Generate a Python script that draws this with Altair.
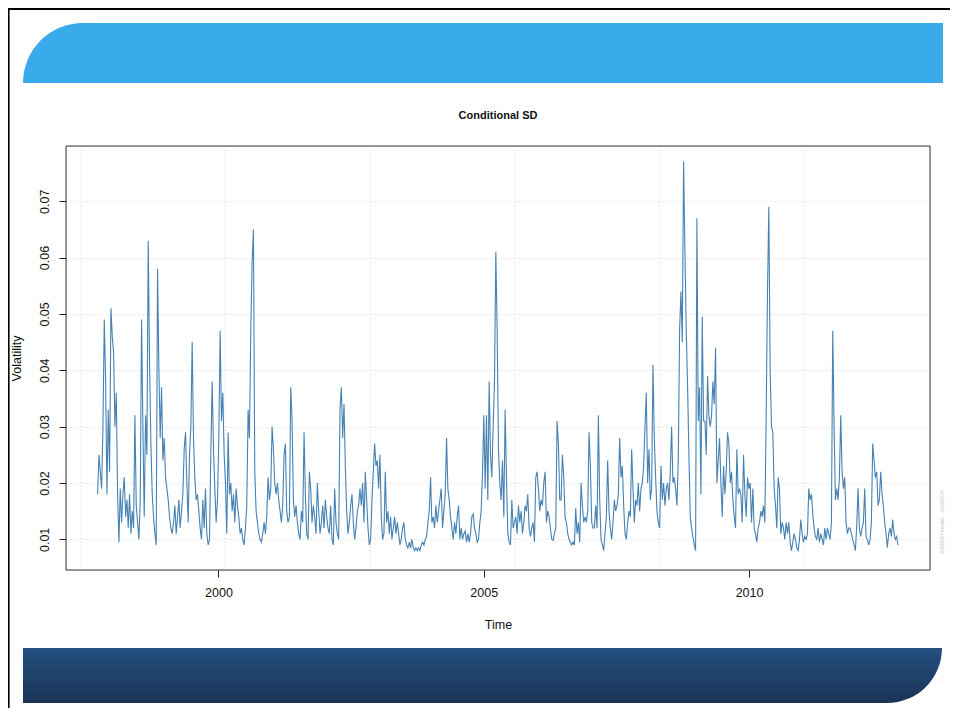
import math
import altair as alt
import pandas as pd

# ---- time series: regularly spaced (start year + step) conditional SD values ----
start_year = 1997.722
step_years = 0.0251

vol_1997_2000 = [
    .018, .025, .022, .019, .030, .049, .038, .018, .033, .022,
    .051, .046, .043, .030, .036, .018, .0095, .019, .013, .018,
    .021, .014, .017, .012, .018, .011, .015, .012, .032, .016,
    .013, .010, .017, .049, .030, .014, .032, .025, .063, .041,
    .027, .018, .014, .011, .009, .058, .040, .028, .037, .024,
    .028, .021, .019, .017, .014, .012, .011, .013, .016, .011,
    .014, .017, .012, .015, .018, .026, .029, .020, .013, .025,
    .030, .045, .028, .021, .017, .018, .015, .012, .010, .017,
    .012, .019, .011, .009, .010, .025, .038, .026, .019, .013,
    .017, .028, .047, .031, .036, .025, .020, .011, .029, .018,
]
vol_2000_2003 = [
    .020, .015, .018, .013, .019, .016, .014, .011, .012, .010,
    .009, .012, .016, .033, .028, .047, .059, .065, .022, .015,
    .013, .011, .010, .0095, .011, .013, .011, .014, .021, .017,
    .019, .030, .026, .020, .018, .020, .017, .015, .013, .016,
    .025, .027, .015, .013, .014, .037, .031, .017, .014, .016,
    .013, .011, .010, .015, .013, .029, .018, .011, .010, .022,
    .019, .013, .016, .014, .011, .020, .015, .011, .013, .016,
    .012, .017, .014, .012, .011, .016, .010, .009, .019, .013,
    .011, .010, .033, .037, .028, .034, .023, .015, .011, .013,
    .016, .018, .013, .010, .012, .015, .016, .019, .016, .020,
    .013, .022, .017, .012, .009, .010, .017, .022, .027, .023,
    .024, .019, .025, .014, .010, .011, .022, .013, .015, .011,
    .014, .010, .012, .014, .011, .013, .011,
]
vol_2003_2006 = [
    .009, .010, .012, .013, .010, .009, .0085, .0095, .0085, .010,
    .0085, .008, .0085, .008, .0085, .008, .009, .0095, .009, .010,
    .0105, .013, .015, .021, .013, .014, .012, .016, .013, .015,
    .017, .019, .012, .015, .018, .028, .019, .017, .014, .012,
    .010, .013, .011, .014, .016, .010, .012, .010, .011, .0115,
    .0095, .011, .0095, .011, .014, .0145, .012, .011, .0095, .010,
    .013, .015, .022, .032, .019, .032, .017, .038, .025, .021,
    .030, .038, .061, .047, .026, .020, .017, .024, .014, .033,
    .021, .011, .0095, .009, .017, .012, .013, .014, .011, .016,
    .013, .015, .011, .013, .016, .015, .018, .012, .0105, .012,
    .013, .0095, .021, .022, .019, .015, .017, .016, .020, .022,
    .013, .015, .014, .012, .010, .0098, .011, .012, .031, .027,
    .017, .017, .025, .021, .014, .013, .011, .010,
]
vol_2006_2009 = [
    .0095, .009, .0095, .009, .0155, .011, .013, .0095, .020, .016,
    .013, .014, .013, .015, .029, .023, .013, .012, .012, .016,
    .012, .032, .017, .010, .009, .008, .011, .014, .024, .015,
    .012, .010, .013, .017, .015, .016, .018, .028, .021, .023,
    .016, .011, .010, .013, .015, .014, .026, .019, .013, .017,
    .016, .020, .015, .019, .020, .023, .030, .036, .020, .026,
    .017, .019, .041, .028, .021, .015, .013, .012, .023, .017,
    .020, .016, .019, .020, .017, .022, .030, .020, .021, .019,
    .016, .024, .047, .054, .045, .077, .061, .047, .037, .025,
    .014, .012, .0105, .009, .008, .067, .031, .037, .018, .0495,
    .031, .031, .025, .039, .032, .030, .032, .038, .034, .044,
    .020, .024, .028, .020, .014, .023, .018, .022, .029, .027,
    .020, .022, .017, .014, .012, .026, .018,
]
vol_2009_2012 = [
    .019, .018, .013, .025, .018, .014, .021, .019, .020, .013,
    .019, .012, .011, .0095, .012, .013, .015, .014, .016, .013,
    .032, .054, .069, .040, .030, .029, .019, .016, .012, .021,
    .019, .011, .013, .012, .010, .013, .011, .013, .0095, .008,
    .0095, .011, .010, .0085, .008, .010, .0135, .011, .0095, .0105,
    .010, .011, .019, .017, .018, .0145, .012, .0105, .010, .012,
    .0095, .011, .010, .009, .012, .010, .012, .011, .010, .013,
    .047, .030, .017, .019, .017, .021, .032, .022, .019, .021,
    .013, .011, .012, .012, .011, .010, .009, .008, .0125, .019,
    .012, .0105, .012, .013, .019, .0105, .010, .009, .010, .013,
    .027, .024, .021, .022, .016, .017, .022, .018, .016, .013,
    .011, .0085, .011, .012, .0105, .0135, .011, .010, .0105, .009,
]

x_ticks = [2000, 2005, 2010]
y_ticks = [0.01, 0.02, 0.03, 0.04, 0.05, 0.06, 0.07]
x_grid = [1997.409, 2000.126, 2002.857, 2005.588, 2008.318, 2011.049]
chart_title = "Conditional SD"
watermark_text = "GARCH model : sGARCH"

values = vol_1997_2000 + vol_2000_2003 + vol_2003_2006 + vol_2006_2009 + vol_2009_2012
df = pd.DataFrame({
    "t": [round(start_year + i * step_years, 4) for i in range(len(values))],
    "v": values,
})
grid_df = pd.DataFrame({"t": x_grid})
one = pd.DataFrame({"k": [0]})

FONT = "Liberation Sans"
TXT = "#111111"

x_scale = alt.Scale(domain=[1997.126, 2013.41], nice=False, zero=False)
y_scale = alt.Scale(domain=[0.00456, 0.0798], nice=False, zero=False)

x_axis = alt.Axis(
    values=x_ticks, format="d", grid=False, domain=False,
    tickSize=7, tickColor="#222222", labelFont=FONT, labelFontSize=12.5,
    labelColor=TXT, labelBaseline="alphabetic", labelPadding=19.5,
    labelFlush=False, labelOverlap=False,
    title="Time", titleFont=FONT, titleFontSize=12.5, titleFontWeight="normal",
    titleColor=TXT, titleBaseline="middle", titleY=54,
)
y_axis = alt.Axis(
    values=y_ticks, format=".2f", grid=True, gridColor="#d3d3d3",
    gridDash=[1, 3], gridWidth=1, domain=False, tickSize=7, tickColor="#222222",
    labelAngle=270, labelAlign="center", labelBaseline="alphabetic",
    labelPadding=10.5, labelFont=FONT, labelFontSize=12.5, labelColor=TXT,
    labelOverlap=False, labelFlush=False,
    title="Volatility", titleFont=FONT, titleFontSize=12.5,
    titleFontWeight="normal", titleColor=TXT, titleAngle=270,
    titleAlign="center", titleBaseline="alphabetic", titleX=-46, titleY=212,
)

# ---- slide decorations ----
sky = "#39aaea"
navy = alt.Gradient(
    gradient="linear",
    stops=[alt.GradientStop(color="#24507f", offset=0),
           alt.GradientStop(color="#1a3356", offset=1)],
    x1=0, x2=0, y1=0, y2=1,
)

top_rect = alt.Chart(one).mark_rect(fill=sky).encode(
    x=alt.value(16.5), x2=alt.value(877), y=alt.value(-123), y2=alt.value(-63))
top_arc = alt.Chart(one).mark_arc(
    fill=sky, radius=60, theta=3 * math.pi / 2, theta2=2 * math.pi
).encode(x=alt.value(17), y=alt.value(-63))

bot_rect = alt.Chart(one).mark_rect(fill=navy).encode(
    x=alt.value(-43), x2=alt.value(821.5), y=alt.value(502), y2=alt.value(557))
bot_arc = alt.Chart(one).mark_arc(
    fill=navy, radius=55, theta=math.pi / 2, theta2=math.pi
).encode(x=alt.value(821), y=alt.value(502))

border_left = alt.Chart(one).mark_rule(color="black", strokeWidth=1.6).encode(
    x=alt.value(-57.2), y=alt.value(-138), y2=alt.value(562))
border_top = alt.Chart(one).mark_rule(color="black", strokeWidth=2).encode(
    x=alt.value(-58), x2=alt.value(884), y=alt.value(-137))

title_mark = alt.Chart(one).mark_text(
    text=chart_title, fontSize=11, fontWeight="bold", font=FONT, color=TXT,
    align="center", baseline="alphabetic",
).encode(x=alt.value(432), y=alt.value(-27))

grid_layer = alt.Chart(grid_df).mark_rule(
    color="#d3d3d3", strokeDash=[1, 3], strokeWidth=1
).encode(x=alt.X("t:Q", scale=x_scale, axis=x_axis))

line_layer = alt.Chart(df).mark_line(color="#4682b4", strokeWidth=1.1).encode(
    x=alt.X("t:Q", scale=x_scale, axis=x_axis),
    y=alt.Y("v:Q", scale=y_scale, axis=y_axis),
)

plot_box = alt.Chart(one).mark_rect(
    fillOpacity=0, stroke="#3a3a3a", strokeWidth=1
).encode(x=alt.value(0), x2=alt.value(864), y=alt.value(0), y2=alt.value(424))

watermark = alt.Chart(one).mark_text(
    text=watermark_text, fontSize=5.5, color="#c4c4c4", angle=270,
    align="center", baseline="middle", font=FONT,
).encode(x=alt.value(876), y=alt.value(376))

chart = alt.layer(
    top_rect, top_arc, bot_rect, bot_arc, border_left, border_top, title_mark,
    grid_layer, line_layer, plot_box, watermark,
).properties(
    width=864, height=424,
    autosize=alt.AutoSizeParams(type="none"),
    padding={"left": 58, "top": 138, "right": 20, "bottom": 138},
).configure_view(
    strokeWidth=0
).configure(background="white")

chart.save("out.html", embed_options={"renderer": "svg", "actions": False})
